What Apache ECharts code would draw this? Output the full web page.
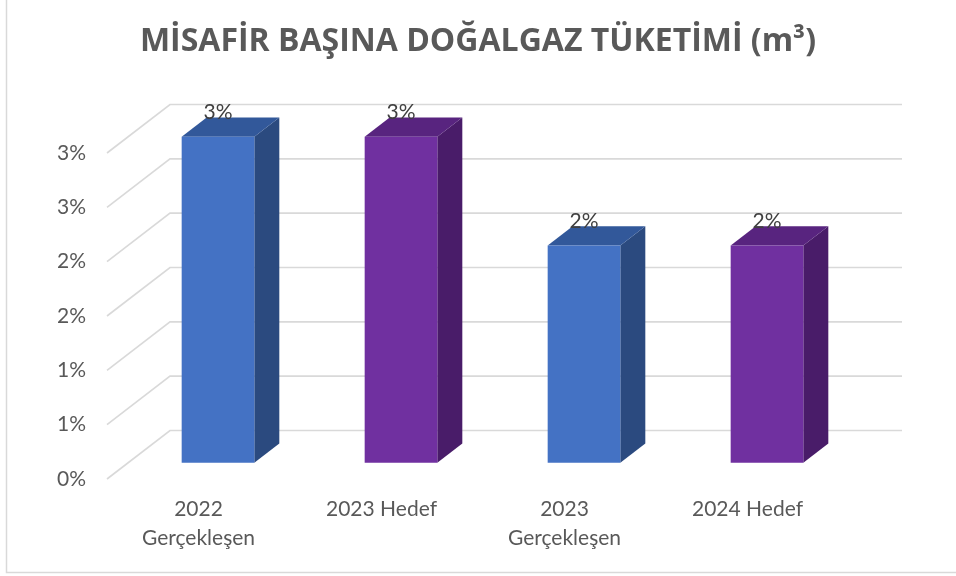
<!DOCTYPE html>
<html>
<head>
<meta charset="utf-8">
<script src="https://cdn.jsdelivr.net/npm/echarts@6/dist/echarts.min.js"></script>
<style>html,body{margin:0;padding:0;background:#fff;}#c{width:956px;height:576px;}</style>
</head>
<body>
<div id="c"></div>
<script>
const titleText = 'MİSAFİR BAŞINA DOĞALGAZ TÜKETİMİ (m³)';
const categories = ['2022\nGerçekleşen', '2023 Hedef', '2023\nGerçekleşen', '2024 Hedef'];
const values = [3.0, 3.0, 2.0, 2.0];
const tickValues = [0, 0.5, 1, 1.5, 2, 2.5, 3];
const tickLabels = ['0%', '1%', '1%', '2%', '2%', '3%', '3%'];
const dataLabels = ['3%', '3%', '2%', '2%'];

const FONT = 'Lato';
const DX = 63, DY = 48.5;     // depth projection of the 3D walls
const T1 = 1 / 3, T2 = 0.73;  // bar depth placement
const palettes = [
  { front: '#4472C4', top: '#32589A', side: '#2B4A7F' },
  { front: '#7030A0', top: '#58247F', side: '#491C69' }
];

const chart = echarts.init(document.getElementById('c'), null, { renderer: 'canvas' });

function wallItem(params, api) {
  const v = api.value(1);
  const cs = params.coordSys;
  const p = api.coord([0, v]);
  const gx = cs.x, gw = cs.width;
  return {
    type: 'polyline',
    shape: { points: [[gx, p[1]], [gx + DX, p[1] - DY], [gx + gw + DX, p[1] - DY]] },
    style: { stroke: '#D9D9D9', lineWidth: 1.6, fill: null },
    silent: true
  };
}

function barItem(params, api) {
  const i = api.value(0);
  const v = api.value(1);
  const base = api.coord([i, 0]);
  const top = api.coord([i, v]);
  const band = api.size([1, 0])[0];
  const w = band * 0.397;
  const o1x = DX * T1, o1y = -DY * T1;
  const ddx = DX * (T2 - T1), ddy = -DY * (T2 - T1);
  const cx = base[0] + o1x - 1.5;
  const x0 = cx - w / 2, x1 = cx + w / 2;
  const yb = base[1] + o1y, yt = top[1] + o1y;
  const pal = palettes[params.dataIndex % 2];
  return {
    type: 'group',
    children: [
      { type: 'polygon', shape: { points: [[x1, yt], [x1 + ddx, yt + ddy], [x1 + ddx, yb + ddy], [x1, yb]] }, style: { fill: pal.side } },
      { type: 'polygon', shape: { points: [[x0, yt], [x1, yt], [x1 + ddx, yt + ddy], [x0 + ddx, yt + ddy]] }, style: { fill: pal.top } },
      { type: 'rect', shape: { x: x0, y: yt, width: w, height: yb - yt }, style: { fill: pal.front } },
      { type: 'text', style: { text: dataLabels[params.dataIndex], x: cx, y: yt + ddy + 5, textAlign: 'center', textVerticalAlign: 'bottom', fill: '#404040', font: '21px ' + FONT } }
    ]
  };
}

chart.setOption({
  backgroundColor: '#fff',
  animation: false,
  title: {
    text: titleText,
    left: 'center',
    top: 21,
    textStyle: { fontFamily: 'Open Sans', fontSize: 32, fontWeight: 'bold', color: '#595959' }
  },
  graphic: [
    { type: 'polyline', shape: { points: [[6.5, 0], [6.5, 572.5], [956, 572.5]] }, style: { stroke: '#D9D9D9', lineWidth: 1.5, fill: null }, silent: true }
  ],
  grid: { left: 107, right: 117, top: 153, bottom: 97, containLabel: false },
  xAxis: {
    type: 'category',
    data: categories,
    axisLine: { show: false },
    axisTick: { show: false },
    axisLabel: { margin: 16, fontFamily: FONT, fontSize: 21, color: '#595959', lineHeight: 29, interval: 0 }
  },
  yAxis: {
    type: 'value',
    min: 0, max: 3, interval: 0.5,
    axisLine: { show: false },
    axisTick: { show: false },
    splitLine: { show: false },
    axisLabel: {
      margin: 21, fontFamily: FONT, fontSize: 21, color: '#595959',
      formatter: function (val) {
        const k = tickValues.findIndex(t => Math.abs(t - val) < 1e-9);
        return k >= 0 ? tickLabels[k] : '';
      }
    }
  },
  series: [
    { type: 'custom', name: 'walls', renderItem: wallItem, data: tickValues.map(v => [0, v]), z: 1, silent: true, clip: false },
    { type: 'custom', name: 'bars', renderItem: barItem, data: values.map((v, i) => [i, v]), z: 5, clip: false }
  ]
});
</script>
</body>
</html>
